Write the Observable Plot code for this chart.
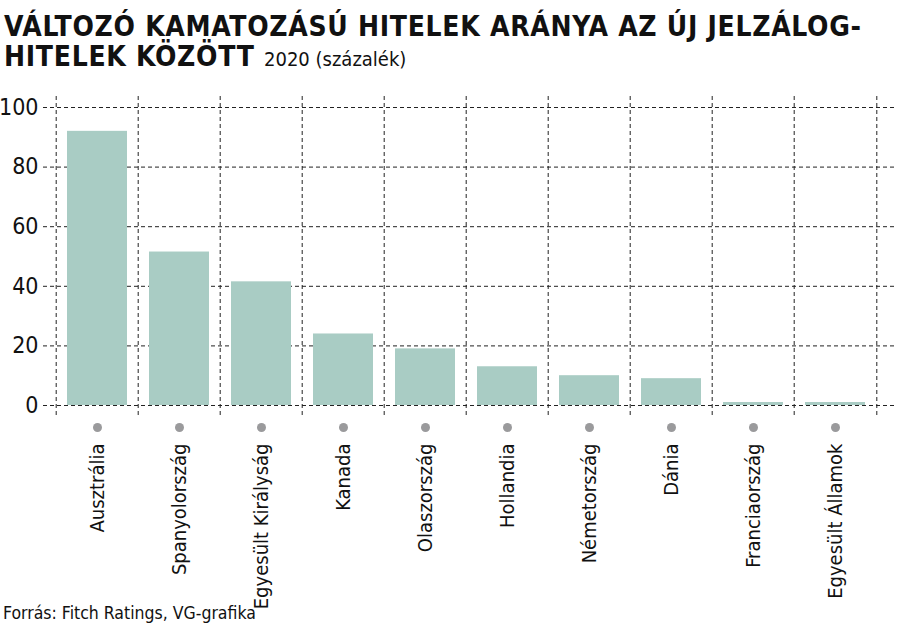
<!DOCTYPE html>
<html>
<head>
<meta charset="utf-8">
<script src="https://cdn.jsdelivr.net/npm/d3@7"></script>
<script src="https://cdn.jsdelivr.net/npm/@observablehq/plot@0.6"></script>
<style>
  html, body { margin: 0; padding: 0; background: #fff; }
  body { width: 900px; height: 630px; position: relative; overflow: hidden;
         font-family: "Liberation Sans Narrow", "DejaVu Sans", sans-serif; font-stretch: condensed; color: #111; }
  #title { position: absolute; left: 4px; top: 12px; font-weight: bold; font-size: 28px; line-height: 30px; letter-spacing: 0.7px; white-space: nowrap; z-index: 2; }
  #title .sub { font-weight: normal; font-size: 20px; letter-spacing: 0; }
  #chart { position: absolute; left: 0; top: 90px; }
  #chart svg, #chart svg text { font-stretch: condensed; }
  #caption { position: absolute; left: 3px; top: 603px; font-size: 17.5px; z-index: 2; }
</style>
</head>
<body>
<div id="title">VÁLTOZÓ KAMATOZÁSÚ HITELEK ARÁNYA AZ ÚJ JELZÁLOG-<br>HITELEK KÖZÖTT <span class="sub">2020 (százalék)</span></div>
<div id="chart"></div>
<div id="caption">Forrás: Fitch Ratings, VG-grafika</div>
<script>
const countries = ["Ausztrália", "Spanyolország", "Egyesült Királyság", "Kanada", "Olaszország", "Hollandia", "Németország", "Dánia", "Franciaország", "Egyesült Államok"];
const values = [92, 51.5, 41.5, 24, 19, 13, 10, 9, 1, 1];
const yTicks = [0, 20, 40, 60, 80, 100];

const data = countries.map((c, i) => ({country: c, value: values[i]}));

const W = 900, H = 535;
const xRange = [53, 879];
const padInner = 0.27, padOuter = 0.135;
const step = (xRange[1] - xRange[0]) / (countries.length - padInner + 2 * padOuter);
const gridStyle = {stroke: "#222", strokeWidth: 1, strokeDasharray: "4,3"};

const chart = Plot.plot({
  width: W,
  height: H,
  marginTop: 6,
  marginBottom: H - 325,
  marginLeft: 43,
  marginRight: 5,
  style: {fontFamily: '"Liberation Sans Narrow", "DejaVu Sans", sans-serif', color: "#111", background: "transparent", overflow: "visible"},
  x: {domain: countries, range: xRange, paddingInner: padInner, paddingOuter: padOuter, label: null},
  y: {domain: [0, 100], range: [315, 17], label: null},
  marks: [
    Plot.ruleY(yTicks, {y: d => d, ...gridStyle}),
    Plot.ruleX(countries, {x: d => d, dx: -step / 2, ...gridStyle}),
    Plot.ruleX(countries.slice(-1), {x: d => d, dx: step / 2, ...gridStyle}),
    Plot.barY(data, {x: "country", y: "value", fill: "#a9ccc4"}),
    Plot.dot(countries, {x: d => d, y: () => 0, dy: 22, r: 4.5, fill: "#9a9a9c", stroke: "none"}),
    Plot.axisY(yTicks, {tickSize: 0, tickPadding: 5, fontSize: 23, label: null, anchor: "left"}),
    Plot.axisX({tickSize: 0, tickRotate: -90, tickPadding: 28, fontSize: 20, label: null, anchor: "bottom"})
  ]
});
document.getElementById("chart").appendChild(chart);
</script>
</body>
</html>
